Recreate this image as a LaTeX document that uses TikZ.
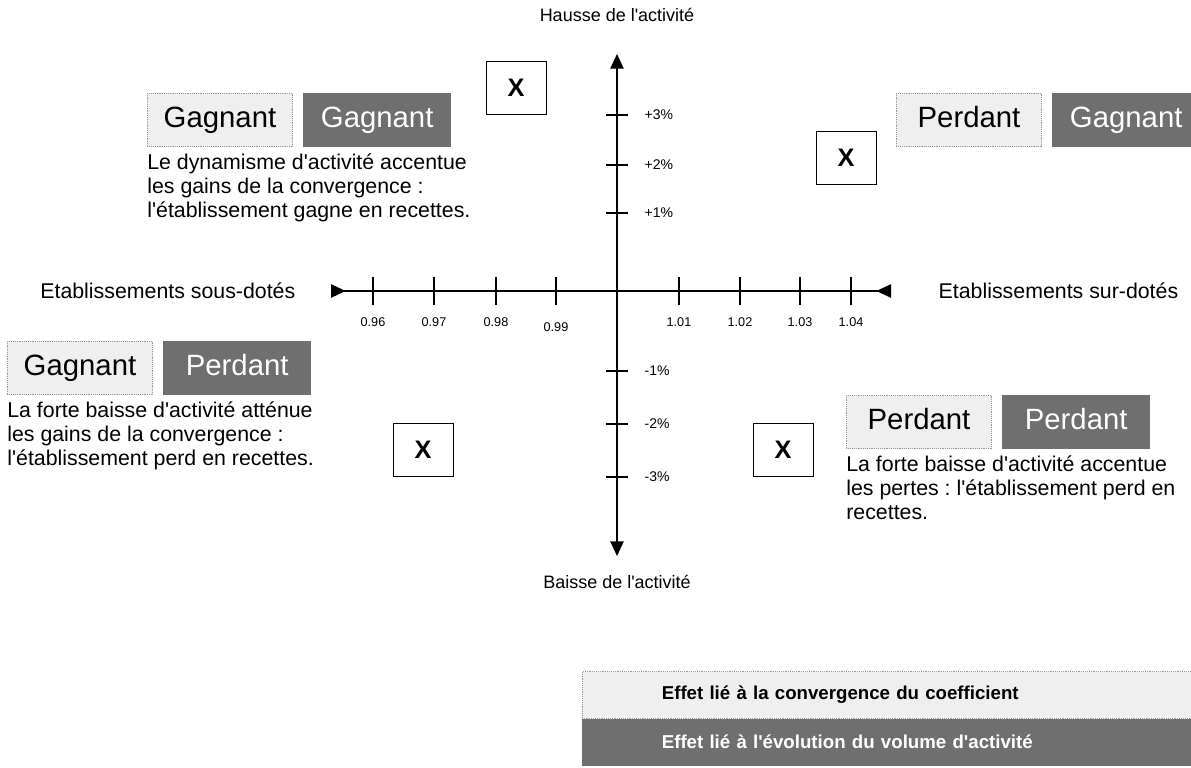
\documentclass[tikz,border=0pt]{standalone}
\usepackage{fontspec}
\setmainfont{Liberation Sans}[Ligatures=TeXOff]
\usetikzlibrary{arrows.meta,positioning}
\frenchspacing
\definecolor{stippleLight}{HTML}{EFEFEF}
\definecolor{stippleDark}{HTML}{6F6F6F}
\tikzset{
  lightbox/.style={draw=gray!80,densely dotted,fill=stippleLight,minimum width=109pt,minimum height=40pt,inner sep=0pt,text height=16pt,text depth=5pt,font=\fontsize{22}{25}\selectfont},
  darkbox/.style={fill=stippleDark,text=white,minimum width=111pt,minimum height=40pt,inner sep=0pt,text height=16pt,text depth=5pt,font=\fontsize{22}{25}\selectfont},
  crossbox/.style={draw,thin,minimum width=45pt,minimum height=40pt,inner sep=0pt,font=\fontsize{19}{22}\selectfont\bfseries},
  comment/.style={align=left,inner sep=0pt,font=\fontsize{16}{18}\selectfont},
  legendbox/.style={minimum height=35pt,inner xsep=60pt,text width=337pt,align=left,font=\fontsize{14}{16}\selectfont\bfseries}
}
\begin{document}
\begin{tikzpicture}[x=0.75pt,y=-0.75pt]
\useasboundingbox (0,0) rectangle (1191,767);
% axes
\coordinate (west) at (331,291);
\coordinate (east) at (891,291);
\coordinate (north) at (617,54);
\coordinate (south) at (617,556);
\draw[line width=1.1pt,{Triangle[reversed,length=11pt,width=10pt]}-{Triangle[reversed,length=11pt,width=10pt]}] (west) -- (east);
\draw[line width=1.1pt,{Triangle[length=11pt,width=10pt]}-{Triangle[length=11pt,width=10pt]}] (south) -- (north);
\node[font=\fontsize{13.5}{16}\selectfont] (hausse) at (617,15) {Hausse de l'activité};
\node[font=\fontsize{13.5}{16}\selectfont] (baisse) at (617,582) {Baisse de l'activité};
\node[anchor=east,font=\fontsize{16}{18}\selectfont] (sousdotes) at (300,291) {Etablissements sous-dotés};
\node[anchor=west,font=\fontsize{16}{18}\selectfont] (surdotes) at (934,291) {Etablissements sur-dotés};
% axes ticks
\foreach \x/\lab/\ly [count=\i] in {373/0.96/322, 434/0.97/322, 496/0.98/322, 556/0.99/327, 679/1.01/322, 740/1.02/322, 800/1.03/322, 851/1.04/322}{
  \draw[line width=0.9pt] (\x,277) -- (\x,305);
  \node[font=\fontsize{9.5}{11}\selectfont] (hx\i) at (\x,\ly) {\lab};
}
\foreach \y/\lab [count=\i] in {115/+3\%, 165/+2\%, 213/+1\%, 371/-1\%, 424/-2\%, 477/-3\%}{
  \draw[line width=0.9pt] (606,\y) -- (628,\y);
  \node[anchor=west,font=\fontsize{10.5}{12}\selectfont] (vy\i) at (640,\y) {\lab};
}
% quadrants
\node[lightbox] (tlA) at (220,120) {Gagnant};
\node[darkbox,right=7.5pt of tlA] (tlB) {Gagnant};
\node[comment,below=5pt of tlA.south west,anchor=north west] (tlText) {Le dynamisme d'activité accentue\\les gains de la convergence :\\l'établissement gagne en recettes.};
\node[lightbox] (trA) at (969,120) {Perdant};
\node[darkbox,right=7.5pt of trA] (trB) {Gagnant};
\node[lightbox] (blA) at (80,368) {Gagnant};
\node[darkbox,right=7.5pt of blA] (blB) {Perdant};
\node[comment,below=5pt of blA.south west,anchor=north west] (blText) {La forte baisse d'activité atténue\\les gains de la convergence :\\l'établissement perd en recettes.};
\node[lightbox] (brA) at (919,422) {Perdant};
\node[darkbox,right=7.5pt of brA] (brB) {Perdant};
\node[comment,below=5pt of brA.south west,anchor=north west] (brText) {La forte baisse d'activité accentue\\les pertes : l'établissement perd en\\recettes.};
\node[crossbox] (tlX) at (516,88) {X};
\node[crossbox] (trX) at (846,158) {X};
\node[crossbox] (blX) at (423,450) {X};
\node[crossbox] (brX) at (783,450) {X};
% legend
\node[legendbox,draw=gray!80,densely dotted,fill=stippleLight] (legConv) at (886.5,695) {Effet lié à la convergence du coefficient};
\node[legendbox,fill=stippleDark,text=white,below=0pt of legConv] (legVol) {Effet lié à l'évolution du volume d'activité};
\end{tikzpicture}
\end{document}
